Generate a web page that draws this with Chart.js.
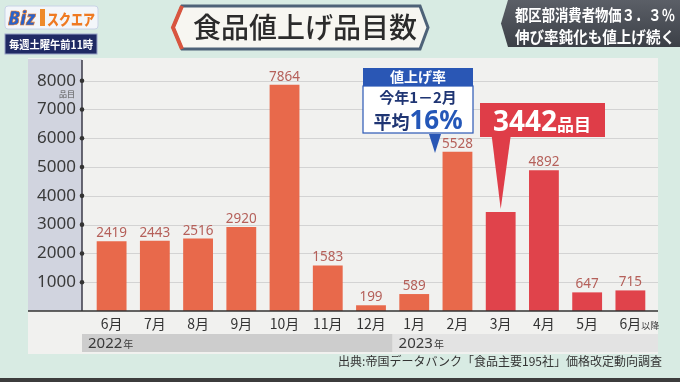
<!doctype html>
<html>
<head>
<meta charset="utf-8">
<title>食品値上げ品目数</title>
<script src="https://cdn.jsdelivr.net/npm/chart.js"></script>
<style>
  body { margin: 0; width: 680px; height: 382px; overflow: hidden; position: relative;
         background: #d8ebe3; font-family: "Noto Sans CJK JP", sans-serif; }
  #panel { position: absolute; left: 28px; top: 58px; width: 630px; height: 296px; background: #f1f1ef; }
  #bottomline { position: absolute; left: 0; top: 378px; width: 680px; height: 4px; background: #3c3c3c; }
  #c { position: absolute; left: 0; top: 0; }
  #overlay { position: absolute; left: 0; top: 0; pointer-events: none; }
</style>
</head>
<body>
<div id="panel"></div>
<div id="bottomline"></div>
<canvas id="c" width="680" height="382"></canvas>

<svg id="overlay" width="680" height="382" xmlns="http://www.w3.org/2000/svg">
  <defs>
    <linearGradient id="gray" x1="0" y1="0" x2="0" y2="1">
      <stop offset="0" stop-color="#5b5f67"/>
      <stop offset="1" stop-color="#3c4047"/>
    </linearGradient>
  </defs>

  <!-- logo -->
  <rect x="5" y="6" width="93" height="23" rx="3" fill="#f3f6fa" stroke="#c9d3e6"/>
  <text x="8" y="25" font-family="Noto Sans" font-weight="900" font-style="italic" font-size="19" fill="#2a62c9" stroke="#ef7a22" stroke-width="0.6">Biz</text>
  <rect x="40" y="9" width="5" height="17" fill="#ee8a2a"/>
  <text x="47" y="25" font-weight="900" font-size="15" fill="#ef7a22" textLength="48" lengthAdjust="spacingAndGlyphs">スクエア</text>
  <rect x="5" y="34" width="92" height="20" fill="#1f2a64" stroke="#9aa4c8"/>
  <text x="51" y="48.5" text-anchor="middle" font-weight="700" font-size="11.5" fill="#ffffff" textLength="84" lengthAdjust="spacingAndGlyphs">毎週土曜午前11時</text>

  <!-- title -->
  <polygon points="173,27.5 182,6 420,6 428,27.5 420,49 182,49" fill="#f7f6f1" stroke="#4e6278" stroke-width="3"/>
  <polyline points="182,6 173,27.5 182,49" fill="none" stroke="#d9553f" stroke-width="4"/>
  <text x="305" y="37.5" text-anchor="middle" font-weight="500" font-size="28" fill="#2b2b2b">食品値上げ品目数</text>

  <!-- top right -->
  <polygon points="508,0 680,0 680,47 508,47 501,23.5" fill="url(#gray)"/>
  <text x="515" y="21" font-weight="700" font-size="16" fill="#ffffff" textLength="160" lengthAdjust="spacingAndGlyphs">都区部消費者物価３．３％</text>
  <text x="515" y="43" font-weight="700" font-size="16" fill="#ffffff" textLength="160" lengthAdjust="spacingAndGlyphs">伸び率鈍化も値上げ続く</text>

  <!-- blue callout -->
  <rect x="363" y="86" width="110" height="47" fill="#ffffff" stroke="#2a57b5" stroke-width="1.2"/>
  <rect x="363" y="68" width="110" height="18" fill="#2a57b5"/>
  <text x="418" y="82" text-anchor="middle" font-weight="700" font-size="14" fill="#ffffff">値上げ率</text>
  <text x="418" y="103" text-anchor="middle" font-weight="700" font-size="15" fill="#1f3573">今年1－2月</text>
  <text x="418" y="129" text-anchor="middle" font-weight="700" fill="#1f3573"><tspan font-size="18">平均</tspan><tspan font-family="Noto Sans" font-size="26" fill="#2457b8">16%</tspan></text>
  <polygon points="429,134 441,134 435,153" fill="#2a57b5"/>

  <!-- red callout box (pointer drawn from the bar on the canvas) -->
  <rect x="480" y="103" width="125" height="34" fill="#df3d48"/>
  <text x="542" y="131" text-anchor="middle" font-weight="700" fill="#ffffff"><tspan font-family="Noto Sans" font-size="28">3442</tspan><tspan font-size="17">品目</tspan></text>

  <!-- source -->
  <text x="662" y="366" text-anchor="end" font-size="12" fill="#333333">出典:帝国データバンク「食品主要195社」価格改定動向調査</text>
</svg>

<script>
// chart data
const months = ['6月', '7月', '8月', '9月', '10月', '11月', '12月', '1月', '2月', '3月', '4月', '5月', '6月以降'];
const itemCounts = [2419, 2443, 2516, 2920, 7864, 1583, 199, 589, 5528, 3442, 4892, 647, 715];
const yTicks = [1000, 2000, 3000, 4000, 5000, 6000, 7000, 8000];
const yearLabels = ['2022年', '2023年'];
const yearStarts = ['6月', '1月'];
const calloutMonth = '3月';

const redFrom = months.indexOf(calloutMonth);
const calloutIdx = months.indexOf(calloutMonth);

const AXIS_X = 82;
const PANEL_L = 28, PANEL_R = 658;

const panelPlugin = {
    id: 'panel',
    beforeDraw(chart) {
        const ctx = chart.ctx, x = chart.scales.x, y = chart.scales.y;
        const base = y.getPixelForValue(0);
        ctx.save();
        // bluish band behind the y labels
        ctx.fillStyle = '#d1d4df';
        ctx.fillRect(PANEL_L, 59, AXIS_X - PANEL_L, base - 59);
        // grid lines
        ctx.strokeStyle = '#d3d3d3';
        ctx.lineWidth = 1;
        yTicks.forEach(v => {
            const py = Math.round(y.getPixelForValue(v)) + 0.5;
            ctx.beginPath(); ctx.moveTo(AXIS_X, py); ctx.lineTo(PANEL_R, py); ctx.stroke();
        });
        // year bands
        const j = months.indexOf(yearStarts[1]);
        const split = (x.getPixelForValue(j - 1) + x.getPixelForValue(j)) / 2;
        ctx.fillStyle = '#cdcdcd';
        ctx.fillRect(AXIS_X, 334, split - AXIS_X, 18);
        ctx.fillStyle = '#e3e3e3';
        ctx.fillRect(split, 334, PANEL_R - split, 18);
        const starts = [AXIS_X, split];
        yearLabels.forEach((t, i) => {
            const num = t.replace('年', '');
            ctx.fillStyle = '#3a3a3a';
            ctx.textBaseline = 'alphabetic';
            ctx.textAlign = 'left';
            ctx.font = '15px "Noto Sans"';
            const sx = starts[i] + 6;
            ctx.fillText(num, sx, 348);
            const w = ctx.measureText(num).width;
            ctx.font = '10px "Noto Sans CJK JP"';
            ctx.fillText('年', sx + w + 1, 348);
        });
        ctx.restore();
    },
    afterDatasetsDraw(chart) {
        const ctx = chart.ctx, x = chart.scales.x, y = chart.scales.y;
        const base = y.getPixelForValue(0);
        const bars = chart.getDatasetMeta(0).data;
        ctx.save();
        // axis lines
        ctx.strokeStyle = '#3a3a48';
        ctx.lineWidth = 1.5;
        ctx.beginPath(); ctx.moveTo(AXIS_X, 60); ctx.lineTo(AXIS_X, base); ctx.stroke();
        ctx.strokeStyle = '#333';
        ctx.beginPath(); ctx.moveTo(PANEL_L, base); ctx.lineTo(PANEL_R, base); ctx.stroke();
        ctx.fillStyle = '#333';
        yTicks.forEach(v => {
            ctx.beginPath(); ctx.arc(AXIS_X, y.getPixelForValue(v), 2.3, 0, Math.PI * 2); ctx.fill();
        });
        // unit under top tick
        ctx.font = '8px "Noto Sans CJK JP"';
        ctx.fillStyle = '#555';
        ctx.textAlign = 'right';
        ctx.textBaseline = 'middle';
        ctx.fillText('品目', 75, y.getPixelForValue(8000) + 13);
        // value labels
        ctx.font = '13.5px "Noto Sans"';
        ctx.fillStyle = '#b5605a';
        ctx.textAlign = 'center';
        ctx.textBaseline = 'alphabetic';
        bars.forEach((b, i) => {
            if (i === calloutIdx) return;
            ctx.fillText(itemCounts[i], b.x, b.y - 4);
        });
        // month labels
        ctx.fillStyle = '#333';
        ctx.textBaseline = 'middle';
        ctx.textAlign = 'left';
        months.forEach((m, i) => {
            const px = x.getPixelForValue(i);
            const k = m.indexOf('月') + 1;
            const main = m.slice(0, k), rest = m.slice(k);
            ctx.font = '14px "Noto Sans CJK JP"';
            const w1 = ctx.measureText(main).width;
            const sx = px - w1 / 2;
            ctx.fillText(main, sx, 324);
            if (rest) {
                ctx.font = '9px "Noto Sans CJK JP"';
                ctx.fillText(rest, sx + w1, 326);
            }
        });
        // red callout pointer
        const cb = bars[calloutIdx];
        ctx.fillStyle = '#df3d48';
        ctx.beginPath();
        ctx.moveTo(cb.x - 9, 136);
        ctx.lineTo(cb.x + 10, 136);
        ctx.lineTo(cb.x, cb.y - 3);
        ctx.closePath();
        ctx.fill();
        ctx.restore();
    }
};

new Chart(document.getElementById('c'), {
    type: 'bar',
    data: {
        labels: months,
        datasets: [{
            data: itemCounts,
            backgroundColor: c => c.dataIndex >= redFrom ? '#e0434b' : '#e8694b',
            barPercentage: 0.69,
            categoryPercentage: 1
        }]
    },
    options: {
        responsive: false,
        animation: false,
        layout: { padding: { left: 28, right: 28, top: 62, bottom: 51 } },
        plugins: { legend: { display: false }, tooltip: { enabled: false } },
        scales: {
            x: {
                grid: { display: false },
                border: { display: false },
                ticks: { display: false },
                afterFit: s => { s.height = 20; }
            },
            y: {
                min: 0,
                max: 8650,
                grid: { display: false, drawTicks: false },
                border: { display: false },
                afterBuildTicks: s => { s.ticks = yTicks.map(v => ({ value: v })); },
                ticks: {
                    color: '#3a3a3a',
                    font: { family: 'Noto Sans', size: 17 },
                    padding: 14,
                    callback: v => String(v)
                },
                afterFit: s => { s.width = 62; }
            }
        }
    },
    plugins: [panelPlugin]
});
</script>
</body>
</html>
